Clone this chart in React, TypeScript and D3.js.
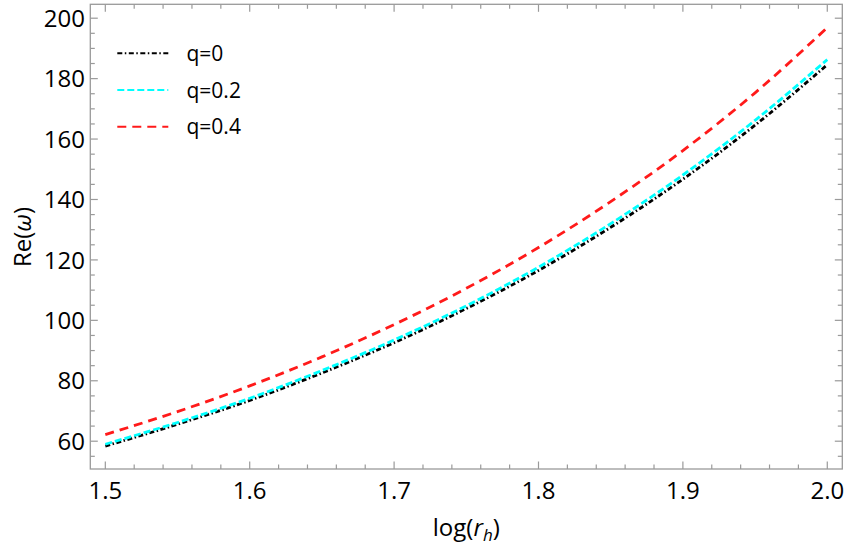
import { useEffect, useRef } from 'react';
import * as d3 from 'd3';

// log(r_h) samples
const logRh = [1.5, 1.55, 1.6, 1.65, 1.7, 1.75, 1.8, 1.85, 1.9, 1.95, 2.0];

// Re(omega)
const reQ0 = [58.4, 65.6, 73.5, 82.6, 92.6, 103.9, 116.5, 130.8, 146.7, 164.6, 184.6];
const reQ02 = [59.0, 66.2, 74.2, 83.4, 93.5, 104.8, 117.6, 132.0, 148.1, 166.2, 186.3];
const reQ04 = [62.2, 69.8, 78.3, 87.9, 98.6, 110.6, 124.1, 139.3, 156.2, 175.3, 196.9];

const seriesNames = ['q=0', 'q=0.2', 'q=0.4'];
const seriesColors = ['#000000', '#00ffff', '#ff1a1a'];
const seriesDashes = ['5,2.5,1.5,2.5', '7,3', '9,6'];

const xMajor = [1.5, 1.6, 1.7, 1.8, 1.9, 2.0];
const yMajor = [60, 80, 100, 120, 140, 160, 180, 200];

const W = 847;
const H = 551;
const FONT = "'Open Sans', 'Noto Sans', sans-serif";

export default function App() {
  const svgRef = useRef<SVGSVGElement>(null);

  useEffect(() => {
    if (!svgRef.current) return;
    const svg = d3.select(svgRef.current);
    svg.selectAll('*').remove();

    const left = 90.3, right = 842.3, top = 4.3, bottom = 469;
    const x = d3.scaleLinear().domain([1.4896, 2.0104]).range([left, right]);
    const y = d3.scaleLinear().domain([50.8, 204.6]).range([bottom, top]);

    const frameColor = '#9a9a9a';

    // ticks
    const xMinor = d3.range(1.5, 2.0001, 0.02).filter(v => !xMajor.some(m => Math.abs(m - v) < 1e-6));
    const yMinor = d3.range(55, 204, 5).filter(v => !yMajor.includes(v));
    const tg = svg.append('g').attr('stroke', frameColor).attr('stroke-width', 1.2);
    const addX = (vals: number[], len: number) => {
      vals.forEach(v => {
        tg.append('line').attr('x1', x(v)).attr('x2', x(v)).attr('y1', bottom).attr('y2', bottom - len);
        tg.append('line').attr('x1', x(v)).attr('x2', x(v)).attr('y1', top).attr('y2', top + len);
      });
    };
    const addY = (vals: number[], len: number) => {
      vals.forEach(v => {
        tg.append('line').attr('y1', y(v)).attr('y2', y(v)).attr('x1', left).attr('x2', left + len);
        tg.append('line').attr('y1', y(v)).attr('y2', y(v)).attr('x1', right).attr('x2', right - len);
      });
    };
    addX(xMajor, 7.5);
    addX(xMinor, 4.5);
    addY(yMajor, 7.5);
    addY(yMinor, 4.5);

    // frame
    svg.append('rect')
      .attr('x', left).attr('y', top)
      .attr('width', right - left).attr('height', bottom - top)
      .attr('fill', 'none').attr('stroke', frameColor).attr('stroke-width', 1.3);

    // tick labels
    svg.append('g').selectAll('text').data(xMajor).join('text')
      .attr('x', d => x(d)).attr('y', 499)
      .attr('text-anchor', 'middle')
      .attr('font-family', FONT).attr('font-size', 24).attr('fill', '#000')
      .text(d => d3.format('.1f')(d));
    svg.append('g').selectAll('text').data(yMajor).join('text')
      .attr('x', 85).attr('y', d => y(d)).attr('dy', '0.36em')
      .attr('text-anchor', 'end')
      .attr('font-family', FONT).attr('font-size', 24).attr('fill', '#000')
      .text(d => String(d));

    // axis labels
    const xl = svg.append('text')
      .attr('x', (left + right) / 2).attr('y', 536)
      .attr('text-anchor', 'middle')
      .attr('font-family', FONT).attr('font-size', 24).attr('fill', '#000');
    xl.append('tspan').text('log(');
    xl.append('tspan').attr('font-style', 'italic').text('r');
    xl.append('tspan').attr('font-style', 'italic').attr('font-size', 17).attr('dy', 5).text('h');
    xl.append('tspan').attr('dy', -5).text(')');

    const yl = svg.append('text')
      .attr('transform', `translate(31,${237}) rotate(-90)`)
      .attr('text-anchor', 'middle')
      .attr('font-family', FONT).attr('font-size', 24).attr('fill', '#000');
    yl.append('tspan').text('Re(');
    yl.append('tspan').attr('font-style', 'italic').text('ω');
    yl.append('tspan').text(')');

    // curves
    const all = [reQ0, reQ02, reQ04];
    const line = d3.line<number>()
      .x((_, i) => x(logRh[i]))
      .y(d => y(d))
      .curve(d3.curveMonotoneX);
    const cg = svg.append('g');
    all.forEach((vals, i) => {
      cg.append('path')
        .datum(vals)
        .attr('fill', 'none')
        .attr('stroke', seriesColors[i])
        .attr('stroke-width', 2.8)
        .attr('stroke-dasharray', seriesDashes[i])
        .attr('d', line);
    });

    // legend
    const legendY = [53.3, 90, 126.7];
    const lg = svg.append('g');
    seriesNames.forEach((name, i) => {
      lg.append('line')
        .attr('x1', 117.3).attr('x2', 168.3)
        .attr('y1', legendY[i]).attr('y2', legendY[i])
        .attr('stroke', seriesColors[i])
        .attr('stroke-width', 2)
        .attr('stroke-dasharray', seriesDashes[i]);
      lg.append('text')
        .attr('x', 186.5).attr('y', legendY[i]).attr('dy', '0.36em')
        .attr('font-family', FONT).attr('font-size', 21).attr('fill', '#000')
        .text(name);
    });
  }, []);

  return (
    <svg
      ref={svgRef}
      width={W}
      height={H}
      style={{ position: 'absolute', left: 0, top: 0, background: '#fff' }}
    />
  );
}
